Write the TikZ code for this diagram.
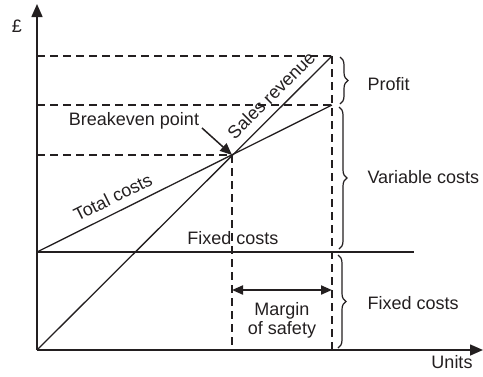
\documentclass[tikz,border=0pt]{standalone}
\usepackage{fontspec}
\setmainfont{Liberation Sans}
\usetikzlibrary{arrows.meta,decorations.pathreplacing}
\definecolor{ink}{HTML}{231F20}
\begin{document}
\begin{tikzpicture}[x=1pt,y=-1pt,ink,
    every node/.style={font=\fontsize{18}{19}\selectfont,text=ink},
    axis/.style={line width=1.6pt,-{Triangle[length=13pt,width=11pt]}},
    costline/.style={line width=1.3pt},
    guide/.style={line width=1.8pt,dash pattern=on 8pt off 5pt},
    curly/.style={line width=1.2pt,decorate,decoration={brace,amplitude=8pt}}]
  \useasboundingbox (0,0) rectangle (483,376);
  \draw
    (37,350) coordinate (o)
    (37,252) coordinate (f0)
    (414,252) coordinate (f1)
    (332,56) coordinate (s1)
    (332,105) coordinate (t1)
    (232,155) coordinate (be)
    (332,350) coordinate (q1)
    (232,350) coordinate (q0)
    (37,56) coordinate (ys)
    (37,105) coordinate (yt)
    (37,155) coordinate (yb);
  % axes
  \draw[axis] (o) -- (37,4) coordinate (ytop);
  \draw[axis] (o) -- (483,350) coordinate (xend);
  \node at (17,26) (pound) {£};
  \node at (452,362) (units) {Units};
  % guides
  \begin{scope}[guide]
    \draw (ys) -- (s1);
    \draw (yt) -- (t1);
    \draw (yb) -- (be);
    \draw (s1) -- (q1);
    \draw (be) -- (q0);
  \end{scope}
  % cost and revenue lines
  \draw[costline] (f0) -- (f1);
  \draw[costline] (o) -- (s1) node[pos=0.83,sloped,above=7pt,inner sep=1pt] (sr) {Sales revenue};
  \draw[costline] (f0) -- (t1) node[pos=0.28,sloped,above=7pt,inner sep=1pt] (tc) {Total costs};
  \node[anchor=base] at (233,244) (fc) {Fixed costs};
  % breakeven
  \node[anchor=base] at (134,125) (bp) {Breakeven point};
  \draw[line width=1.5pt,-{Triangle[length=12pt,width=10pt]}] (202,128) -- (be);
  % margin of safety
  \draw[line width=2pt,{Triangle[length=11pt,width=9pt]}-{Triangle[length=11pt,width=9pt]}]
    (232,290) coordinate (m0) -- (332,290) coordinate (m1);
  \node[align=center] at (282,320) (ms) {Margin\\of safety};
  % braces
  \draw[curly] (340,57) -- (340,104);
  \draw[curly] (339,107) -- (339,249);
  \draw[curly] (338,255) -- (338,348);
  \node[anchor=base west] at (364,90) (pr) {Profit};
  \node[anchor=base west] at (364,183) (vc) {Variable costs};
  \node[anchor=base west] at (364,309) (fc2) {Fixed costs};
\end{tikzpicture}
\end{document}
